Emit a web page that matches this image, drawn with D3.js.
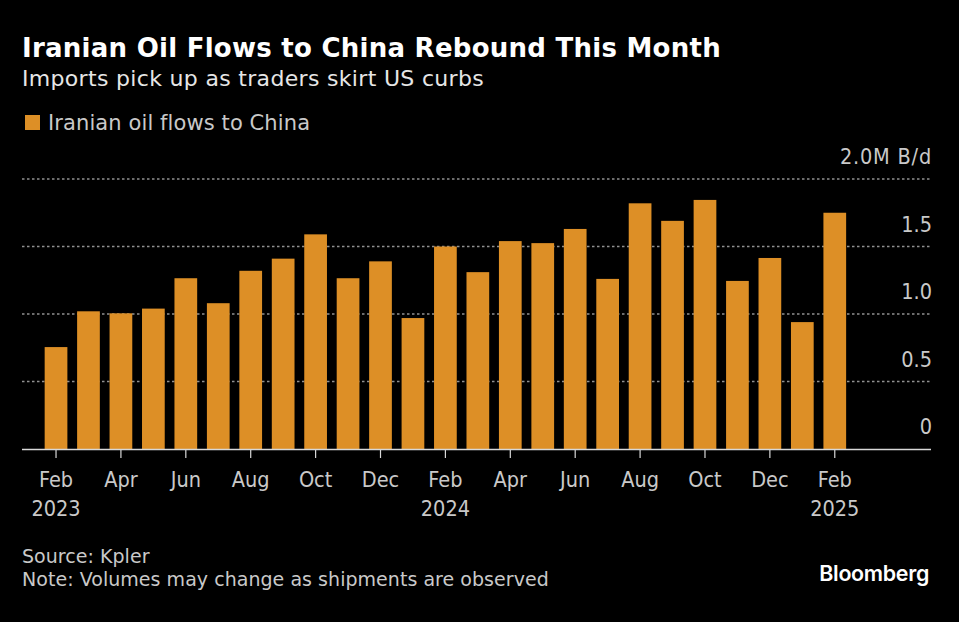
<!DOCTYPE html>
<html>
<head>
<meta charset="utf-8">
<script src="https://cdn.jsdelivr.net/npm/d3@7"></script>
<style>
  html, body { margin: 0; padding: 0; background: #000; }
  svg { display: block; }
  text { font-family: "DejaVu Sans", sans-serif; }
  .axis text { font-stretch: condensed; }
</style>
</head>
<body>
<svg id="chart" width="959" height="622"></svg>
<script>
const months = ["Feb 2023", "Mar 2023", "Apr 2023", "May 2023", "Jun 2023", "Jul 2023", "Aug 2023", "Sep 2023", "Oct 2023", "Nov 2023", "Dec 2023",
    "Jan 2024", "Feb 2024", "Mar 2024", "Apr 2024", "May 2024", "Jun 2024", "Jul 2024", "Aug 2024", "Sep 2024", "Oct 2024", "Nov 2024", "Dec 2024",
    "Jan 2025", "Feb 2025"];
const flows = [0.755, 1.02, 1.005, 1.04, 1.265, 1.08, 1.32, 1.41, 1.59, 1.265, 1.39,
    0.97, 1.50, 1.31, 1.54, 1.525, 1.63, 1.26, 1.82, 1.69, 1.845, 1.245, 1.415,
    0.94, 1.75];
const yTicks = [0, 0.5, 1, 1.5, 2];
const yLabels = ["0", "0.5", "1.0", "1.5", "2.0M B/d"];
const xTicks = months.filter((m, i) => i % 2 === 0);

const svg = d3.select("#chart");
const orange = "#dd8f26";
const grey = "#c9c9c9";

const x = d3.scaleBand().domain(months).range([39.8, 851]).paddingInner(0.3).paddingOuter(0.15);
const y = d3.scaleLinear().domain([0, 2]).range([449, 179]);

// header
svg.append("text").attr("x", 22).attr("y", 57).attr("fill", "#fff")
    .attr("font-size", 26).attr("font-weight", "bold").attr("letter-spacing", 0.26)
    .text("Iranian Oil Flows to China Rebound This Month");
svg.append("text").attr("x", 22).attr("y", 86).attr("fill", "#e6e6e6")
    .attr("font-size", 22).attr("letter-spacing", 0.32)
    .text("Imports pick up as traders skirt US curbs");

// legend
svg.append("rect").attr("x", 25).attr("y", 115).attr("width", 15).attr("height", 15).attr("fill", orange);
svg.append("text").attr("x", 48).attr("y", 130).attr("fill", grey)
    .attr("font-size", 21).attr("letter-spacing", 0.1).text("Iranian oil flows to China");

// gridlines
svg.append("g").selectAll("line")
    .data(yTicks.filter(d => d > 0))
    .join("line")
    .attr("x1", 22).attr("x2", 930)
    .attr("y1", d => y(d)).attr("y2", d => y(d))
    .attr("stroke", "#909090").attr("stroke-width", 1.4).attr("stroke-dasharray", "2.5 2.5");

// bars
svg.append("g").selectAll("rect")
    .data(flows)
    .join("rect")
    .attr("x", (d, i) => x(months[i]))
    .attr("width", x.bandwidth())
    .attr("y", d => y(d))
    .attr("height", d => y(0) - y(d))
    .attr("fill", orange);

// y axis labels sit above their gridlines
const yAxis = svg.append("g").attr("class", "axis").attr("transform", "translate(932,0)")
    .call(d3.axisLeft(y).tickValues(yTicks).tickSize(0).tickPadding(0).tickFormat((d, i) => yLabels[i]));
yAxis.select(".domain").remove();
yAxis.selectAll("text").attr("dy", -15.5).attr("fill", grey).attr("font-size", 21.5).attr("font-family", null);
yAxis.selectAll(".tick").filter(d => d === 2).select("text").attr("letter-spacing", 0.8);

// x axis
const xAxis = svg.append("g").attr("class", "axis").attr("transform", "translate(0,449)")
    .call(d3.axisBottom(x).tickValues(xTicks).tickSize(9).tickPadding(14).tickFormat(d => d.split(" ")[0]));
xAxis.select(".domain").attr("d", "M22,0.5H931").attr("stroke", "#d8d8d8").attr("stroke-width", 1.6);
xAxis.selectAll(".tick line").attr("stroke", "#d8d8d8").attr("stroke-width", 1.2);
xAxis.selectAll("text").attr("fill", grey).attr("font-size", 21.5).attr("font-family", null);

// year labels under the first month of each run
xAxis.selectAll(".tick")
    .filter(d => ["Feb 2023", "Feb 2024", "Feb 2025"].includes(d))
    .append("text")
    .attr("y", 66.5)
    .attr("fill", grey).attr("font-size", 21.5).attr("text-anchor", "middle")
    .text(d => d.split(" ")[1]);

// footer
svg.append("text").attr("x", 22).attr("y", 563).attr("fill", grey)
    .attr("font-size", 19).attr("letter-spacing", 0.04).text("Source: Kpler");
svg.append("text").attr("x", 22).attr("y", 586).attr("fill", grey)
    .attr("font-size", 19).attr("letter-spacing", 0.04).text("Note: Volumes may change as shipments are observed");
svg.append("text").attr("x", 929).attr("y", 581).attr("fill", "#fff").attr("text-anchor", "end")
    .style("font-family", "Inter, sans-serif")
    .attr("font-size", 21.4).attr("font-weight", 600).attr("letter-spacing", -0.3).text("Bloomberg");
</script>
</body>
</html>
